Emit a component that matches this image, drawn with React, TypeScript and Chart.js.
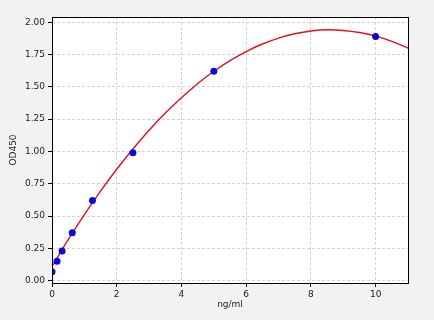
import React, { useEffect, useRef } from "react";
import { Chart, registerables } from "chart.js";

Chart.register(...registerables);

// Standard points (concentration ng/ml, OD450)
const stdX = [0, 0.156, 0.312, 0.625, 1.25, 2.5, 5, 10];
const stdY = [0.07, 0.15, 0.23, 0.37, 0.62, 0.99, 1.62, 1.89];

// Fitted curve
const curveX = [0, 0.5, 1, 1.5, 2, 2.5, 3, 3.5, 4, 4.5, 5, 5.5, 6, 6.5, 7, 7.5, 8, 8.5, 9, 9.5, 10, 10.5, 11];
const curveY = [0.11, 0.317, 0.511, 0.693, 0.862, 1.019, 1.164, 1.297, 1.416, 1.524, 1.62, 1.703, 1.773, 1.831, 1.877, 1.91, 1.932, 1.941, 1.936, 1.92, 1.892, 1.852, 1.80];

const xTicks = [0, 2, 4, 6, 8, 10];
const yTicks = [0, 0.25, 0.5, 0.75, 1.0, 1.25, 1.5, 1.75, 2.0];

const xTitle = "ng/ml";
const yTitle = "OD450";

const FONT = "'DejaVu Sans', sans-serif";

export default function App() {
  const ref = useRef<HTMLCanvasElement | null>(null);

  useEffect(() => {
    document.body.style.margin = "0";
    const canvas = ref.current;
    if (!canvas) return;

    const bgPlugin = {
      id: "bgPlugin",
      beforeDraw(chart: any) {
        const { ctx, chartArea, width, height } = chart;
        ctx.save();
        ctx.fillStyle = "#f2f2f2";
        ctx.fillRect(0, 0, width, height);
        ctx.fillStyle = "#ffffff";
        ctx.fillRect(chartArea.left, chartArea.top, chartArea.right - chartArea.left, chartArea.bottom - chartArea.top);
        ctx.restore();
      },
      afterDraw(chart: any) {
        const { ctx, chartArea } = chart;
        ctx.save();
        ctx.strokeStyle = "#000000";
        ctx.lineWidth = 1;
        ctx.setLineDash([]);
        ctx.strokeRect(
          Math.round(chartArea.left) + 0.5,
          Math.round(chartArea.top) + 0.5,
          Math.round(chartArea.right - chartArea.left),
          Math.round(chartArea.bottom - chartArea.top)
        );
        ctx.restore();
      },
    };

    const chart = new Chart(canvas, {
      type: "scatter",
      data: {
        datasets: [
          {
            label: "fit",
            data: curveX.map((x, i) => ({ x, y: curveY[i] })),
            showLine: true,
            borderColor: "#e0101c",
            borderWidth: 1.4,
            pointRadius: 0,
            tension: 0.3,
            order: 2,
          },
          {
            label: "std",
            data: stdX.map((x, i) => ({ x, y: stdY[i] })),
            showLine: false,
            backgroundColor: "#0a0ad8",
            borderColor: "#0a0ad8",
            pointRadius: 3.5,
            pointBorderWidth: 0,
            clip: 0,
            order: 1,
          },
        ] as any,
      },
      options: {
        animation: false,
        responsive: false,
        devicePixelRatio: 1,
        layout: { padding: { top: 17, right: 26, left: 0, bottom: 0 } },
        plugins: { legend: { display: false }, tooltip: { enabled: false } },
        scales: {
          x: {
            type: "linear",
            min: 0,
            max: 11,
            afterBuildTicks(scale: any) {
              scale.ticks = xTicks.map((v) => ({ value: v }));
            },
            afterFit(scale: any) {
              scale.height = 37;
            },
            ticks: {
              font: { family: FONT, size: 9 },
              color: "#1a1a1a",
              padding: 2,
              maxRotation: 0,
              callback: (v: any) => String(v),
            },
            grid: {
              color: "#c8c8c8",
              lineWidth: 0.8,
              drawTicks: true,
              tickLength: 4,
              tickColor: "#000000",
              tickWidth: 1,
              tickBorderDash: [],
            },
            border: { display: false, dash: [3, 2] },
            title: {
              display: true,
              text: xTitle,
              font: { family: FONT, size: 9 },
              color: "#1a1a1a",
              padding: { top: 0, bottom: 10 },
            },
          },
          y: {
            type: "linear",
            min: -0.018,
            max: 2.04,
            afterBuildTicks(scale: any) {
              scale.ticks = yTicks.map((v) => ({ value: v }));
            },
            afterFit(scale: any) {
              scale.width = 52;
            },
            ticks: {
              font: { family: FONT, size: 9 },
              color: "#1a1a1a",
              padding: 3,
              callback: (v: any) => Number(v).toFixed(2),
            },
            grid: {
              color: "#c8c8c8",
              lineWidth: 0.8,
              drawTicks: true,
              tickLength: 4,
              tickColor: "#000000",
              tickWidth: 1,
              tickBorderDash: [],
            },
            border: { display: false, dash: [3, 2] },
            title: {
              display: true,
              text: yTitle,
              font: { family: FONT, size: 9 },
              color: "#1a1a1a",
              padding: { top: 8, bottom: 0 },
            },
          },
        },
      },
      plugins: [bgPlugin],
    });

    return () => chart.destroy();
  }, []);

  return (
    <canvas
      ref={ref}
      width={434}
      height={320}
      style={{ display: "block", width: 434, height: 320 }}
    />
  );
}
